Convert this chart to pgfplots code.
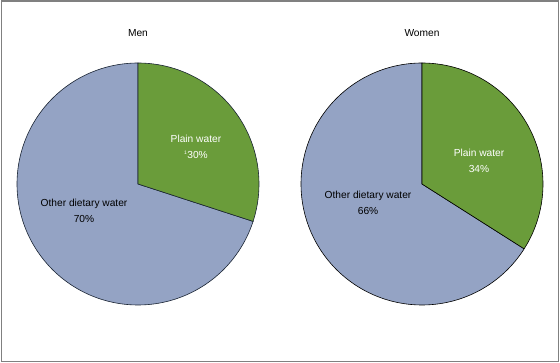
\documentclass[border=0pt]{standalone}
\usepackage{pgfplots}
\pgfplotsset{compat=1.18}
\usepackage{fontspec}
\setmainfont{Liberation Sans}
\definecolor{pwgreen}{RGB}{106,156,58}
\definecolor{odblue}{RGB}{148,163,196}
\definecolor{frame}{RGB}{128,128,128}
\definecolor{outl}{RGB}{25,35,50}
% shares in percent: plain water, other dietary water
\def\menPlain{30}\def\menOther{70}
\def\womenPlain{34}\def\womenOther{66}
\tikzset{lab/.style={font=\fontsize{10.2}{16}\selectfont, align=center, inner sep=0pt}}
\begin{document}
\begin{tikzpicture}[x=1pt,y=1pt]
\useasboundingbox (0,0) rectangle (560,363);
\draw[frame, line width=1.5pt] (1.5,1.5) rectangle (558.5,361.8);
\pgfmathsetmacro{\mA}{90-3.6*\menPlain}
\pgfmathsetmacro{\mB}{\mA-3.6*\menOther}
\pgfmathsetmacro{\wA}{90-3.6*\womenPlain}
\pgfmathsetmacro{\wB}{\wA-3.6*\womenOther}
\pgfplotsset{pie/.style={scale only axis, width=242pt, height=242pt,
  xmin=-1, xmax=1, ymin=-1, ymax=1, hide axis, clip=false}}
\begin{axis}[pie, at={(138pt,179pt)}, anchor=center]
\addplot[fill=odblue, draw=outl, line width=0.6pt, domain=\mB:\mA, samples=200, variable=\t] ({cos(t)},{sin(t)}) -- (axis cs:0,0) -- cycle;
\addplot[fill=pwgreen, draw=outl, line width=0.6pt, domain=\mA:90, samples=100, variable=\t] ({cos(t)},{sin(t)}) -- (axis cs:0,0) -- cycle;
\node[lab] at (axis cs:0,1.248) {Men};
\node[lab, white] at (axis cs:0.479,0.306) {Plain water\\\textsuperscript{\tiny 1}30\%};
\node[lab] at (axis cs:-0.446,-0.223) {Other dietary water\\70\%};
\end{axis}
\begin{axis}[pie, at={(422pt,179pt)}, anchor=center]
\addplot[fill=odblue, draw=black, line width=0.6pt, domain=\wB:\wA, samples=200, variable=\t] ({cos(t)},{sin(t)}) -- (axis cs:0,0) -- cycle;
\addplot[fill=pwgreen, draw=black, line width=0.6pt, domain=\wA:90, samples=100, variable=\t] ({cos(t)},{sin(t)}) -- (axis cs:0,0) -- cycle;
\node[lab] at (axis cs:0,1.248) {Women};
\node[lab, white] at (axis cs:0.471,0.190) {Plain water\\34\%};
\node[lab] at (axis cs:-0.446,-0.157) {Other dietary water\\66\%};
\end{axis}
\end{tikzpicture}
\end{document}
